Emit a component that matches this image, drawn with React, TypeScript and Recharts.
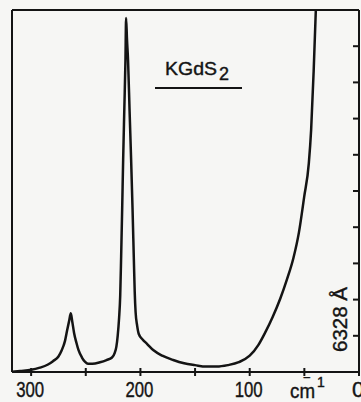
import { Customized, Line, LineChart, XAxis, YAxis } from "recharts";

// Raman shift (cm-1) and intensity (arb. units, 0-100 across the frame)
const shift = [
  317.5, 310, 300, 292, 285, 280, 275, 272, 269, 267, 265.3, 263.7, 262.3, 260.7, 258.5, 256.7,
  253.5, 250.6, 248, 244, 237, 231, 226, 223.5, 222, 220.8, 219.5, 218.5, 217.7, 216.7, 215.8,
  214.7, 213.7, 213.1, 212.3, 211.3, 209.9, 208.5, 207.2, 206, 205.2, 204.4, 203, 201.5, 198,
  194, 188, 180, 170, 160, 150, 140, 130, 120, 110, 100, 92, 86, 79, 72, 66, 60, 55, 50.2, 45.9,
  43.8, 41.5, 39.5,
];
const intensity = [
  0.1, 0.3, 0.6, 1.2, 2.0, 3.0, 4.3, 6.0, 8.6, 11.6, 14.0, 16.2, 13.8, 10.8, 8.0, 6.1,
  4.0, 2.8, 2.3, 2.3, 2.7, 3.3, 4.0, 5.3, 7.0, 10, 15, 21, 31, 45, 58.6,
  73, 86, 97.8, 92, 86, 72, 58.6, 45, 31, 22, 16.5, 12.8, 10.5, 9.0,
  7.8, 6.0, 4.5, 3.3, 2.4, 1.9, 1.5, 1.5, 1.9, 2.7, 4.5, 7.5, 10.8, 15.2, 20.3, 25.5, 31.5, 38.5, 48.3, 57.7,
  66.9, 83, 100,
];
const xTicks = [300, 250, 200, 150, 100, 50, 0];
const xLabels = [300, 200, 100, 0];
const yTicks = [10, 20, 30, 40, 50, 60, 70, 80, 90];

const data = shift.map((wn, i) => ({ wn, v: intensity[i] }));

const ink = "#141414";
const font = "'Liberation Sans', Arial, sans-serif";

const XTick = (props: any) => {
  const { x, payload } = props;
  const show = xLabels.includes(payload.value);
  return (
    <g>
      <line x1={x} x2={x} y1={368} y2={376} stroke={ink} strokeWidth={2} />
      {show && (
        <text
          x={x - 1}
          y={397}
          textAnchor="middle"
          fontFamily={font}
          fontSize={22}
          fill={ink}
          stroke={ink}
          strokeWidth={0.4}
          textLength={payload.value === 0 ? undefined : 28}
          lengthAdjust="spacingAndGlyphs"
        >
          {payload.value}
        </text>
      )}
    </g>
  );
};

// inward tick marks on the right frame edge
const YTick = (props: any) => {
  const { y } = props;
  return <line x1={353} x2={360} y1={y} y2={y} stroke={ink} strokeWidth={2} />;
};

const Notes = () => (
  <g fontFamily={font} fill={ink} stroke={ink} strokeWidth={0.4}>
    <text x={165} y={75} fontSize={19} textLength={52} lengthAdjust="spacingAndGlyphs">
      KGdS
    </text>
    <text x={219} y={80} fontSize={18}>
      2
    </text>
    <line x1={155} x2={242} y1={88} y2={88} stroke={ink} strokeWidth={2} />
    <text
      transform="translate(347,352) rotate(-90)"
      fontSize={20}
      textLength={65}
      lengthAdjust="spacingAndGlyphs"
    >
      6328 Å
    </text>
    <text x={290} y={398} fontSize={21} textLength={25} lengthAdjust="spacingAndGlyphs">
      cm
    </text>
    <text x={303} y={382} fontSize={13}>
      −
    </text>
    <text x={317} y={387} fontSize={14}>
      1
    </text>
  </g>
);

export default function App() {
  return (
    <div style={{ position: "absolute", left: 0, top: 0, width: 361, height: 402, background: "#f6f6f4" }}>
      <LineChart width={361} height={402} data={data} margin={{ top: 9, right: 1, bottom: 0, left: 11 }}>
        <XAxis
          dataKey="wn"
          type="number"
          domain={[0, 317.5]}
          reversed
          allowDataOverflow
          ticks={xTicks}
          interval={0}
          height={30}
          axisLine={{ stroke: ink, strokeWidth: 2 }}
          tickLine={false}
          tick={<XTick />}
        />
        <XAxis
          xAxisId="top"
          dataKey="wn"
          type="number"
          domain={[0, 317.5]}
          reversed
          orientation="top"
          height={1}
          axisLine={{ stroke: ink, strokeWidth: 2 }}
          tickLine={false}
          tick={false}
        />
        <YAxis
          yAxisId="l"
          type="number"
          domain={[0, 100]}
          width={1}
          axisLine={{ stroke: ink, strokeWidth: 2 }}
          tickLine={false}
          tick={false}
        />
        <YAxis
          yAxisId="r"
          orientation="right"
          type="number"
          domain={[0, 100]}
          ticks={yTicks}
          interval={0}
          width={1}
          axisLine={{ stroke: ink, strokeWidth: 2 }}
          tickLine={false}
          tick={<YTick />}
        />
        <Line
          yAxisId="r"
          dataKey="v"
          type="monotone"
          stroke={ink}
          strokeWidth={2.5}
          dot={false}
          isAnimationActive={false}
        />
        <Customized component={Notes} />
      </LineChart>
    </div>
  );
}
